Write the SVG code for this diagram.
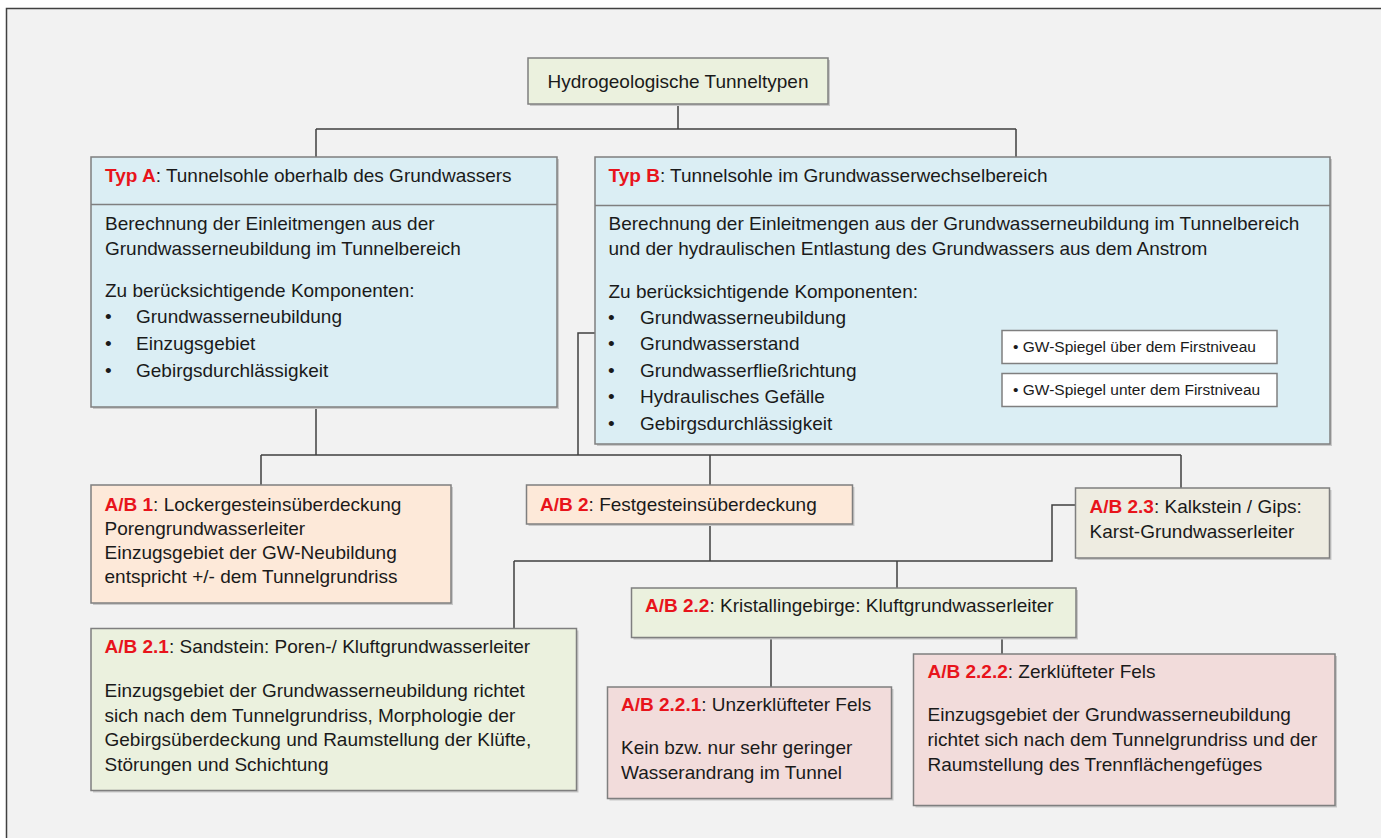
<svg xmlns="http://www.w3.org/2000/svg" width="1381" height="838" viewBox="0 0 1381 838">
<style>
  text { font-family: "Liberation Sans", Arial, sans-serif; font-size: 19px; fill: #1a1a1a; }
  .red { fill: #e8141b; font-weight: bold; }
  .small { font-size: 15.5px; }
  .box { stroke: #7f7f7f; stroke-width: 1.5; }
  .blue { fill: #dbeef4; }
  .peach { fill: #fde9d9; }
  .green { fill: #ebf1de; }
  .beige { fill: #eeece1; }
  .pink { fill: #f2dcdb; }
  .white { fill: #ffffff; }
  .conn { fill: none; stroke: #404040; stroke-width: 1.5; }
  .shadow { fill: #c8c8c8; }
</style>
<rect x="0" y="0" width="1381" height="838" fill="#ffffff"/>
<rect x="6.5" y="8.5" width="1400" height="850" fill="#f2f2f2" stroke="#404040" stroke-width="1.5"/>

<g id="connectors">
  <path class="conn" d="M678,104 V129 M316,129 H1016 M316,129 V157 M1016,129 V157"/>
  <path class="conn" d="M316,407 V455"/>
  <path class="conn" d="M595,333 H578 V455"/>
  <path class="conn" d="M261,455 H1181 M261,455 V485 M710,455 V485 M1181,455 V488"/>
  <path class="conn" d="M710,524 V561 M514,561 H1052 V505 H1076 M514,561 V628 M897,561 V588"/>
  <path class="conn" d="M771,637 V687 M1002,637 V654"/>
</g>

<g id="top">
  <rect class="shadow" x="530" y="60" width="300" height="46"/>
  <rect class="box green" x="528" y="58" width="300" height="46"/>
  <text x="678" y="88" text-anchor="middle">Hydrogeologische Tunneltypen</text>
</g>

<g id="typA">
  <rect class="shadow" x="93" y="159" width="466" height="250"/>
  <rect class="box blue" x="91" y="157" width="466" height="250"/>
  <line class="box" x1="91" y1="204.5" x2="557" y2="204.5"/>
  <text x="105" y="182"><tspan class="red">Typ A</tspan>: Tunnelsohle oberhalb des Grundwassers</text>
  <text x="105" y="230">Berechnung der Einleitmengen aus der</text>
  <text x="105" y="255">Grundwasserneubildung im Tunnelbereich</text>
  <text x="105" y="297">Zu berücksichtigende Komponenten:</text>
  <text x="105" y="323">•</text><text x="136" y="323">Grundwasserneubildung</text>
  <text x="105" y="350">•</text><text x="136" y="350">Einzugsgebiet</text>
  <text x="105" y="377">•</text><text x="136" y="377">Gebirgsdurchlässigkeit</text>
</g>

<g id="typB">
  <rect class="shadow" x="597" y="159" width="735" height="287"/>
  <rect class="box blue" x="595" y="157" width="735" height="287"/>
  <line class="box" x1="595" y1="205.5" x2="1330" y2="205.5"/>
  <text x="608.5" y="182"><tspan class="red">Typ B</tspan>: Tunnelsohle im Grundwasserwechselbereich</text>
  <text x="608.5" y="230">Berechnung der Einleitmengen aus der Grundwasserneubildung im Tunnelbereich</text>
  <text x="608.5" y="255">und der hydraulischen Entlastung des Grundwassers aus dem Anstrom</text>
  <text x="608.5" y="298">Zu berücksichtigende Komponenten:</text>
  <text x="608" y="324">•</text><text x="640" y="324">Grundwasserneubildung</text>
  <text x="608" y="350">•</text><text x="640" y="350">Grundwasserstand</text>
  <text x="608" y="377">•</text><text x="640" y="377">Grundwasserfließrichtung</text>
  <text x="608" y="403">•</text><text x="640" y="403">Hydraulisches Gefälle</text>
  <text x="608" y="430">•</text><text x="640" y="430">Gebirgsdurchlässigkeit</text>
</g>

<g id="gw1">
  <rect class="box white" x="1002" y="330.5" width="275" height="33"/>
  <text class="small" x="1013" y="352">• GW-Spiegel über dem Firstniveau</text>
</g>
<g id="gw2">
  <rect class="box white" x="1002" y="373.5" width="275" height="33"/>
  <text class="small" x="1013" y="395">• GW-Spiegel unter dem Firstniveau</text>
</g>

<g id="ab1">
  <rect class="shadow" x="93" y="487" width="360" height="118"/>
  <rect class="box peach" x="91" y="485" width="360" height="118"/>
  <text x="104.5" y="511"><tspan class="red">A/B 1</tspan>: Lockergesteinsüberdeckung</text>
  <text x="104.5" y="535">Porengrundwasserleiter</text>
  <text x="104.5" y="559">Einzugsgebiet der GW-Neubildung</text>
  <text x="104.5" y="583">entspricht +/- dem Tunnelgrundriss</text>
</g>

<g id="ab2">
  <rect class="shadow" x="528.5" y="487" width="326" height="39"/>
  <rect class="box peach" x="526.5" y="485" width="326" height="39"/>
  <text x="540" y="511"><tspan class="red">A/B 2</tspan>: Festgesteinsüberdeckung</text>
</g>

<g id="ab23">
  <rect class="shadow" x="1077.5" y="490" width="254" height="70"/>
  <rect class="box beige" x="1075.5" y="488" width="254" height="70"/>
  <text x="1089.5" y="513"><tspan class="red">A/B 2.3</tspan>: Kalkstein / Gips:</text>
  <text x="1089.5" y="538">Karst-Grundwasserleiter</text>
</g>

<g id="ab22">
  <rect class="shadow" x="633.5" y="590" width="444.5" height="49.5"/>
  <rect class="box green" x="631.5" y="588" width="444.5" height="49.5"/>
  <text x="645" y="612"><tspan class="red">A/B 2.2</tspan>: Kristallingebirge: Kluftgrundwasserleiter</text>
</g>

<g id="ab21">
  <rect class="shadow" x="93" y="630.5" width="485.5" height="162"/>
  <rect class="box green" x="91" y="628.5" width="485.5" height="162"/>
  <text x="104.5" y="653"><tspan class="red">A/B 2.1</tspan>: Sandstein: Poren-/ Kluftgrundwasserleiter</text>
  <text x="104.5" y="697">Einzugsgebiet der Grundwasserneubildung richtet</text>
  <text x="104.5" y="722">sich nach dem Tunnelgrundriss, Morphologie der</text>
  <text x="104.5" y="746">Gebirgsüberdeckung und Raumstellung der Klüfte,</text>
  <text x="104.5" y="771">Störungen und Schichtung</text>
</g>

<g id="ab221">
  <rect class="shadow" x="609.5" y="689" width="284" height="111.5"/>
  <rect class="box pink" x="607.5" y="687" width="284" height="111.5"/>
  <text x="621" y="711"><tspan class="red">A/B 2.2.1</tspan>: Unzerklüfteter Fels</text>
  <text x="621" y="754">Kein bzw. nur sehr geringer</text>
  <text x="621" y="779">Wasserandrang im Tunnel</text>
</g>

<g id="ab222">
  <rect class="shadow" x="915.5" y="656" width="421.5" height="151.5"/>
  <rect class="box pink" x="913.5" y="654" width="421.5" height="151.5"/>
  <text x="927.5" y="678"><tspan class="red">A/B 2.2.2</tspan>: Zerklüfteter Fels</text>
  <text x="927.5" y="721">Einzugsgebiet der Grundwasserneubildung</text>
  <text x="927.5" y="746">richtet sich nach dem Tunnelgrundriss und der</text>
  <text x="927.5" y="771">Raumstellung des Trennflächengefüges</text>
</g>
</svg>
